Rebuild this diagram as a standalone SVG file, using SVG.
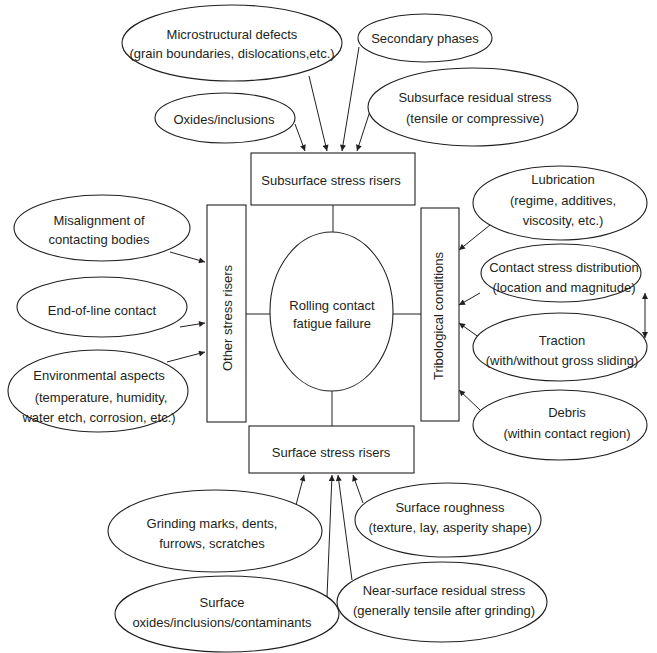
<svg xmlns="http://www.w3.org/2000/svg" width="657" height="653" viewBox="0 0 657 653">
<style>
text{font-family:"Liberation Sans",Arial,sans-serif;font-size:13px;fill:#231f20;text-anchor:middle}
.n ellipse,.n rect{fill:#fff;stroke:#231f20;stroke-width:1.1}
.c line,.c path{stroke:#231f20;stroke-width:1;fill:none}
</style>
<defs>
<marker id="ah" viewBox="0 0 10 10" refX="10" refY="5" markerWidth="7" markerHeight="6" markerUnits="userSpaceOnUse" orient="auto-start-reverse">
<path d="M0,0 L10,5 L0,10 z" fill="#231f20"/>
</marker>
</defs>
<rect width="657" height="653" fill="#fff"/>
<g class="c" id="connectors">
<line x1="333" y1="205" x2="333" y2="232"/>
<line x1="246" y1="314" x2="270" y2="314"/>
<line x1="393" y1="314" x2="421" y2="314"/>
<line x1="332" y1="391" x2="332" y2="426"/>
<line x1="295" y1="124" x2="305" y2="151" marker-end="url(#ah)"/>
<line x1="309" y1="76" x2="327" y2="151" marker-end="url(#ah)"/>
<line x1="359" y1="47" x2="342" y2="151" marker-end="url(#ah)"/>
<line x1="372" y1="105" x2="357" y2="151" marker-end="url(#ah)"/>
<line x1="170" y1="252" x2="205" y2="262" marker-end="url(#ah)"/>
<line x1="180" y1="327" x2="205" y2="323" marker-end="url(#ah)"/>
<line x1="167" y1="362" x2="205" y2="352" marker-end="url(#ah)"/>
<line x1="490" y1="225" x2="459" y2="250" marker-end="url(#ah)"/>
<line x1="480" y1="293" x2="459" y2="305" marker-end="url(#ah)"/>
<line x1="480" y1="338" x2="459" y2="323" marker-end="url(#ah)"/>
<line x1="480" y1="410" x2="459" y2="390" marker-end="url(#ah)"/>
<line x1="645" y1="293" x2="645" y2="338" marker-start="url(#ah)" marker-end="url(#ah)"/>
<line x1="296" y1="505" x2="304" y2="475" marker-end="url(#ah)"/>
<line x1="327" y1="597" x2="332" y2="475" marker-end="url(#ah)"/>
<line x1="352" y1="580" x2="338" y2="475" marker-end="url(#ah)"/>
<line x1="363" y1="503" x2="353" y2="475" marker-end="url(#ah)"/>
</g>
<g class="n" id="center"><ellipse cx="331.5" cy="311.5" rx="61.5" ry="79.5"/><text x="332" y="310">Rolling contact</text><text x="332" y="328">fatigue failure</text></g>
<g class="n" id="subsurface"><rect x="251" y="153" width="164" height="52"/><text x="331" y="185">Subsurface stress risers</text></g>
<g class="n" id="surface"><rect x="249" y="426" width="165" height="47"/><text x="331" y="457">Surface stress risers</text></g>
<g class="n" id="other"><rect x="207" y="205" width="39" height="217"/><text transform="translate(232,318) rotate(-90)">Other stress risers</text></g>
<g class="n" id="tribo"><rect x="421" y="208" width="38" height="213"/><text transform="translate(443,316) rotate(-90)">Tribological conditions</text></g>
<g class="n" id="micro"><ellipse cx="232" cy="43" rx="110" ry="38"/><text x="232" y="39">Microstructural defects</text><text x="232" y="58">(grain boundaries, dislocations,etc.)</text></g>
<g class="n" id="secondary"><ellipse cx="425" cy="38" rx="67" ry="24"/><text x="425" y="43">Secondary phases</text></g>
<g class="n" id="oxides"><ellipse cx="225" cy="118" rx="70" ry="25"/><text x="224" y="124">Oxides/inclusions</text></g>
<g class="n" id="subres"><ellipse cx="473" cy="107" rx="105" ry="39"/><text x="475" y="102">Subsurface residual stress</text><text x="475" y="123">(tensile or compressive)</text></g>
<g class="n" id="misalign"><ellipse cx="102" cy="228" rx="88" ry="33"/><text x="99" y="225">Misalignment of</text><text x="99" y="244">contacting bodies</text></g>
<g class="n" id="endline"><ellipse cx="102" cy="307" rx="85" ry="30"/><text x="102" y="315">End-of-line contact</text></g>
<g class="n" id="env"><ellipse cx="98" cy="391" rx="90" ry="41"/><text x="99" y="380">Environmental aspects</text><text x="101" y="402">(temperature, humidity,</text><text x="99" y="422">water etch, corrosion, etc.)</text></g>
<g class="n" id="lube"><ellipse cx="560" cy="203" rx="87" ry="37"/><text x="563" y="184">Lubrication</text><text x="563" y="205">(regime, additives,</text><text x="563" y="225">viscosity, etc.)</text></g>
<g class="n" id="contact"><ellipse cx="561" cy="273" rx="80" ry="29"/><text x="564" y="272">Contact stress distribution</text><text x="564" y="292">(location and magnitude)</text></g>
<g class="n" id="traction"><ellipse cx="560" cy="347" rx="87" ry="34"/><text x="562" y="345">Traction</text><text x="562" y="365">(with/without gross sliding)</text></g>
<g class="n" id="debris"><ellipse cx="560" cy="425" rx="87" ry="35"/><text x="567" y="417">Debris</text><text x="567" y="438">(within contact region)</text></g>
<g class="n" id="grinding"><ellipse cx="215" cy="531" rx="107" ry="41"/><text x="212" y="528">Grinding marks, dents,</text><text x="212" y="548">furrows, scratches</text></g>
<g class="n" id="surfox"><ellipse cx="227" cy="614" rx="112" ry="38"/><text x="222" y="607">Surface</text><text x="222" y="627">oxides/inclusions/contaminants</text></g>
<g class="n" id="rough"><ellipse cx="448" cy="520" rx="93" ry="37"/><text x="450" y="512">Surface roughness</text><text x="450" y="532">(texture, lay, asperity shape)</text></g>
<g class="n" id="nearsurf"><ellipse cx="442" cy="602" rx="105" ry="40"/><text x="444" y="595">Near-surface residual stress</text><text x="444" y="615">(generally tensile after grinding)</text></g>
</svg>
